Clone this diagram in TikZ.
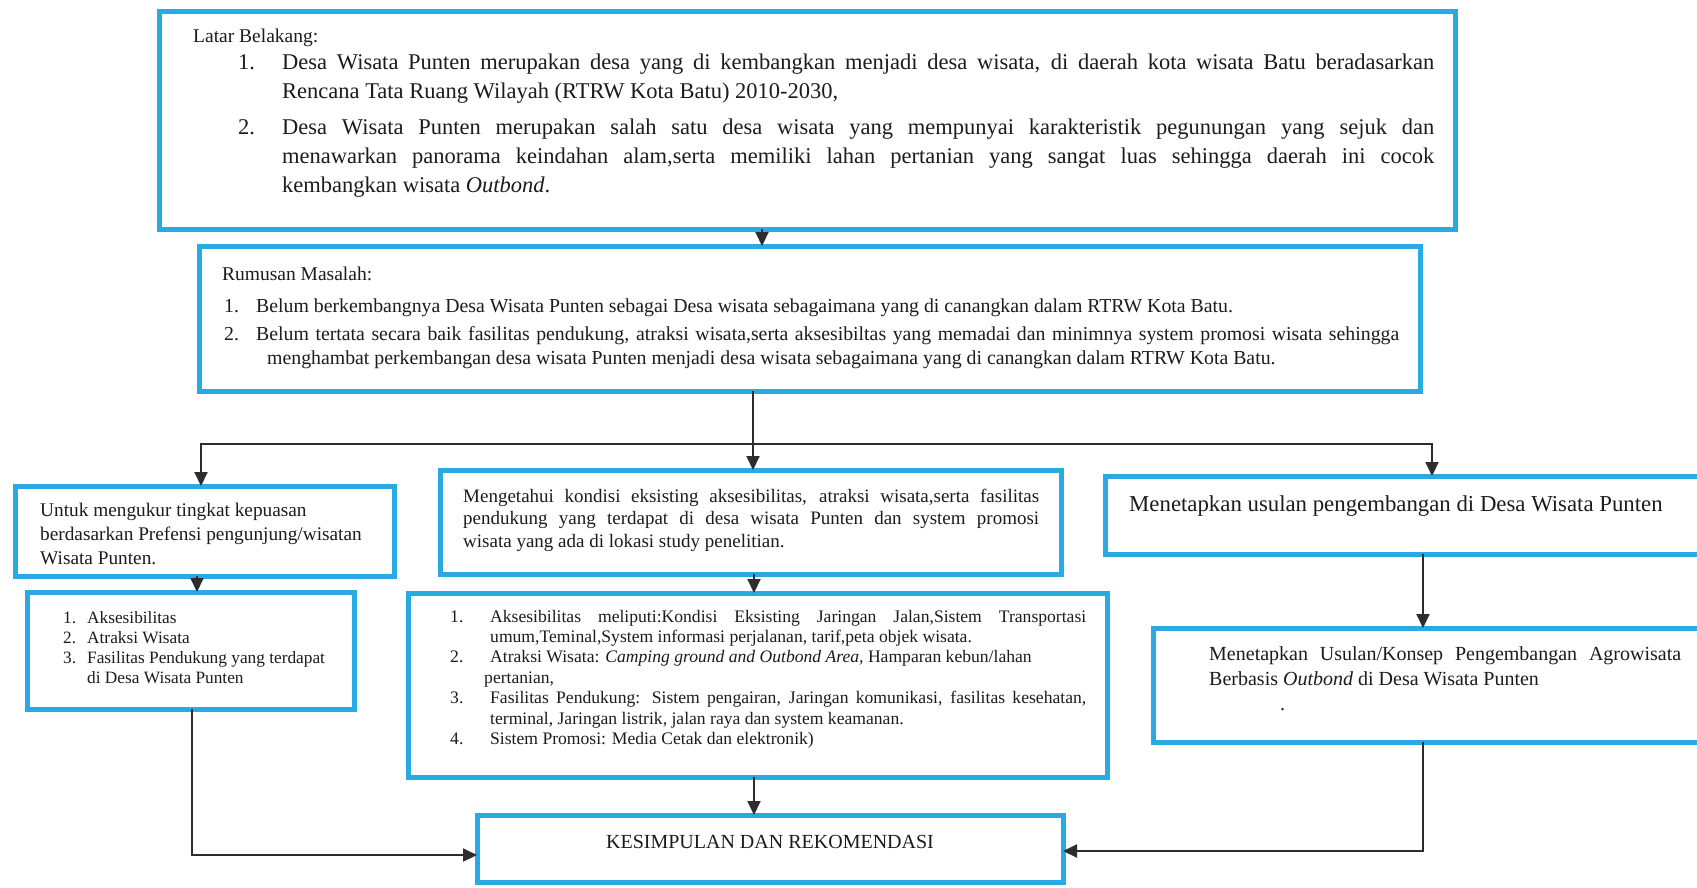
\documentclass[tikz,border=0pt]{standalone}
\usepackage{fontspec}
\setmainfont{Liberation Serif}
\usetikzlibrary{arrows.meta}
\definecolor{boxblue}{RGB}{41,170,226}
\definecolor{ink}{RGB}{28,28,28}
\definecolor{linegray}{RGB}{45,45,45}
\newcommand{\jline}[2]{\makebox[#1][s]{#2}}
\newcommand{\numb}[2]{\makebox[#1][l]{#2}}
\begin{document}
\begin{tikzpicture}[x=1pt,y=-1pt,
  box/.style={draw=boxblue, line width=5pt, rectangle, anchor=north west, inner sep=0pt, outer sep=0pt},
  txt/.style={anchor=base west, inner sep=0pt, text=ink},
  arr/.style={draw=linegray, line width=2pt, -{Triangle[length=14pt,width=13pt]}},
  ln/.style={draw=linegray, line width=2pt}]
\clip (0,0) rectangle (1697,887);
\fill[white] (0,0) rectangle (1697,887);

% boxes
\node[box, minimum width=1296pt, minimum height=218pt] (LB) at (159,11) {};
\node[box, minimum width=1221pt, minimum height=145pt] (RM) at (199,246) {};
\node[box, minimum width=379pt, minimum height=90pt] (A) at (15,486) {};
\node[box, minimum width=621pt, minimum height=104pt] (B) at (440,470) {};
\node[box, minimum width=625pt, minimum height=78pt] (C) at (1105,476) {};
\node[box, minimum width=327pt, minimum height=117pt] (A2) at (27,592) {};
\node[box, minimum width=699pt, minimum height=184pt] (B2) at (408,593) {};
\node[box, minimum width=577pt, minimum height=114pt] (C2) at (1153,628) {};
\node[box, minimum width=586pt, minimum height=67pt] (K) at (477,815) {};

% texts
\node[txt, font=\fontsize{19.5}{24}\selectfont] (LBh) at (193,42) {Latar Belakang:};
\node[txt] (LBt) at (238,69) {\begin{minipage}[t]{1196pt}\fontsize{22.5}{29}\selectfont\raggedright
\numb{44pt}{1.}\jline{1152pt}{Desa Wisata Punten merupakan desa yang di kembangkan menjadi desa wisata, di daerah kota wisata Batu beradasarkan}\par
\hspace*{44pt}Rencana Tata Ruang Wilayah (RTRW Kota Batu) 2010-2030,\par
\vspace{7pt}
\numb{44pt}{2.}\jline{1152pt}{Desa Wisata Punten merupakan salah satu desa wisata yang  mempunyai karakteristik pegunungan yang sejuk dan}\par
\hspace*{44pt}\jline{1152pt}{menawarkan panorama keindahan alam,serta memiliki lahan pertanian yang sangat luas  sehingga daerah ini cocok}\par
\hspace*{44pt}kembangkan wisata \textit{Outbond}.
\end{minipage}};

\node[txt, font=\fontsize{19.5}{24}\selectfont] (RMh) at (222,280) {Rumusan Masalah:};
\node[txt] (RMt) at (224,312) {\begin{minipage}[t]{1180pt}\fontsize{19.8}{24}\selectfont\raggedright
\numb{32pt}{1.}Belum berkembangnya Desa Wisata Punten sebagai Desa wisata sebagaimana yang di canangkan dalam RTRW Kota Batu.\par
\vspace{4pt}
\numb{32pt}{2.}\jline{1143pt}{Belum tertata secara baik fasilitas pendukung, atraksi wisata,serta aksesibiltas yang memadai dan minimnya system promosi wisata sehingga}\par
\hspace*{43pt}menghambat perkembangan desa wisata Punten menjadi desa wisata sebagaimana yang di canangkan dalam RTRW Kota Batu.
\end{minipage}};

\node[txt] (At) at (40,516) {\begin{minipage}[t]{345pt}\fontsize{19.3}{24}\selectfont\raggedright
Untuk mengukur tingkat kepuasan\par
berdasarkan Prefensi pengunjung/wisatan\par
Wisata Punten.
\end{minipage}};

\node[txt] (A2t) at (63,623) {\begin{minipage}[t]{280pt}\fontsize{17.3}{20}\selectfont\raggedright
\numb{24pt}{1.}Aksesibilitas\par
\numb{24pt}{2.}Atraksi Wisata\par
\numb{24pt}{3.}Fasilitas Pendukung yang terdapat\par
\hspace*{24pt}di Desa Wisata Punten
\end{minipage}};

\node[txt] (Bt) at (463,502) {\begin{minipage}[t]{576pt}\fontsize{19}{22.5}\selectfont\raggedright
\jline{576pt}{Mengetahui kondisi eksisting aksesibilitas, atraksi wisata,serta fasilitas}\par
\jline{576pt}{pendukung  yang terdapat di desa wisata Punten dan system promosi}\par
wisata yang ada di lokasi study penelitian.
\end{minipage}};

\node[txt] (B2t) at (450,622) {\begin{minipage}[t]{640pt}\fontsize{17.6}{20.4}\selectfont\raggedright
\numb{40pt}{1.}\jline{596pt}{Aksesibilitas meliputi:Kondisi Eksisting Jaringan Jalan,Sistem Transportasi}\par
\hspace*{40pt}umum,Teminal,System informasi perjalanan, tarif,peta objek wisata.\par
\numb{40pt}{2.}Atraksi Wisata: \textit{Camping ground and Outbond Area,} Hamparan kebun/lahan\par
\hspace*{34pt}pertanian,\par
\numb{40pt}{3.}\jline{596pt}{Fasilitas Pendukung: Sistem pengairan, Jaringan komunikasi, fasilitas kesehatan,}\par
\hspace*{40pt}terminal, Jaringan listrik, jalan raya dan system keamanan.\par
\numb{40pt}{4.}Sistem Promosi: Media Cetak dan elektronik)
\end{minipage}};

\node[txt, font=\fontsize{22.8}{28}\selectfont] (Ct) at (1129,511) {Menetapkan usulan pengembangan di Desa Wisata Punten};

\node[txt] (C2t) at (1209,660) {\begin{minipage}[t]{480pt}\fontsize{20}{25}\selectfont\raggedright
\jline{472pt}{Menetapkan Usulan/Konsep Pengembangan Agrowisata}\par
Berbasis \textit{Outbond} di Desa Wisata Punten\par
\hspace*{71pt}.
\end{minipage}};

\node[anchor=base, inner sep=0pt, text=ink, font=\fontsize{20}{24}\selectfont] (Kt) at (770,848) {KESIMPULAN DAN REKOMENDASI};

% connectors
\coordinate (c1) at (762,0);
\draw[arr] (LB.south -| c1) -- (RM.north -| c1);
\coordinate (jm) at (753,444);
\coordinate (jl) at (201,444);
\coordinate (jr) at (1432,444);
\draw[arr] (RM.south -| jm) -- (B.north -| jm);
\draw[arr] (jm) -| (A.north -| jl);
\draw[arr] (jm) -| (C.north -| jr);
\coordinate (ca) at (197,0);
\draw[arr] (A.south -| ca) -- (A2.north -| ca);
\coordinate (cb) at (754,0);
\draw[arr] (B.south -| cb) -- (B2.north -| cb);
\draw[arr] (B2.south -| cb) -- (K.north -| cb);
\coordinate (cc) at (1423,0);
\draw[arr] (C.south -| cc) -- (C2.north -| cc);
\coordinate (pl) at (192,855);
\draw[arr] (A2.south -| pl) |- (K.west |- pl);
\coordinate (pr) at (1423,851);
\draw[arr] (C2.south -| pr) |- (K.east |- pr);
\end{tikzpicture}
\end{document}
